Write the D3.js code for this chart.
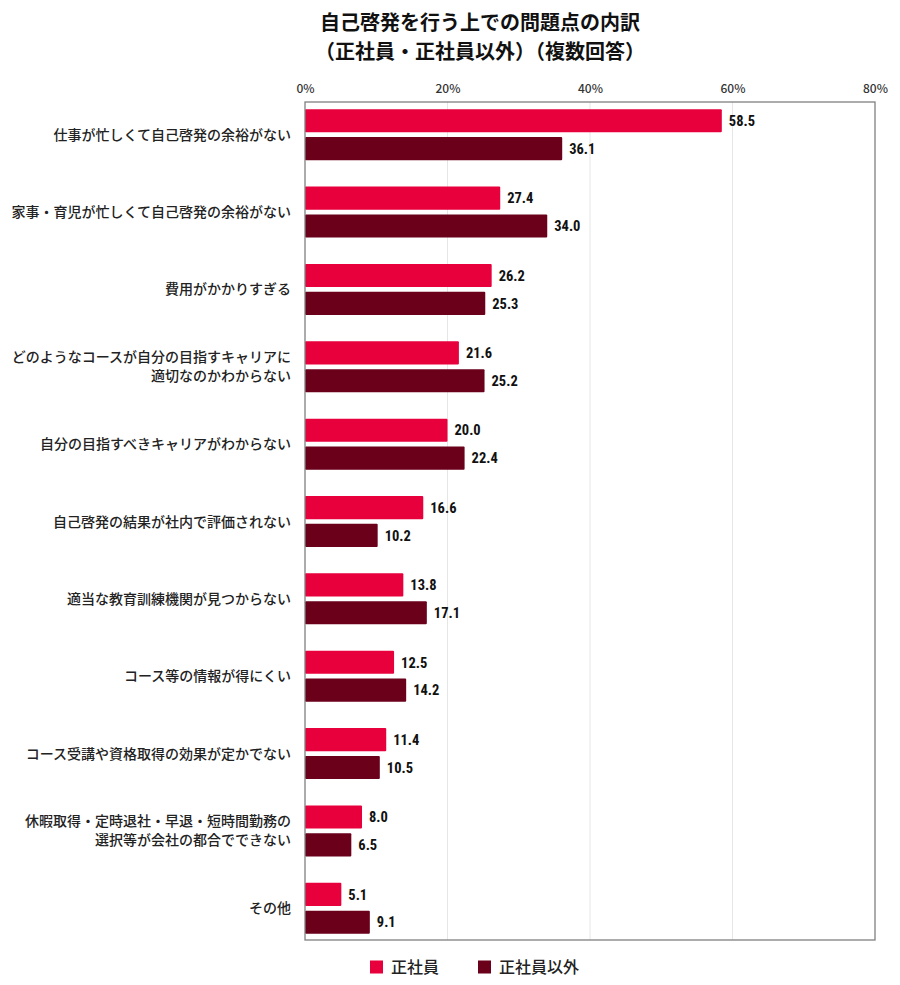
<!DOCTYPE html>
<html><head><meta charset="utf-8">
<script src="https://cdn.jsdelivr.net/npm/d3@7/dist/d3.min.js"></script>
<style>
body{margin:0;background:#fff;}
svg{font-family:"Noto Sans CJK JP","Noto Sans",sans-serif;}
</style></head>
<body><svg id="c" width="900" height="985"></svg>
<script>
const categories = [
  ["仕事が忙しくて自己啓発の余裕がない"],
  ["家事・育児が忙しくて自己啓発の余裕がない"],
  ["費用がかかりすぎる"],
  ["どのようなコースが自分の目指すキャリアに","適切なのかわからない"],
  ["自分の目指すべきキャリアがわからない"],
  ["自己啓発の結果が社内で評価されない"],
  ["適当な教育訓練機関が見つからない"],
  ["コース等の情報が得にくい"],
  ["コース受講や資格取得の効果が定かでない"],
  ["休暇取得・定時退社・早退・短時間勤務の","選択等が会社の都合でできない"],
  ["その他"]
];
const seriesNames = ["正社員","正社員以外"];
const regular = [58.5,27.4,26.2,21.6,20.0,16.6,13.8,12.5,11.4,8.0,5.1];
const nonRegular = [36.1,34.0,25.3,25.2,22.4,10.2,17.1,14.2,10.5,6.5,9.1];
const xTicks = [0,20,40,60,80];
const colors = ["#e8003d","#6b001b"];

const svg = d3.select("#c");
const pLeft = 305, pRight = 875, pTop = 102, pBottom = 940;
const x = d3.scaleLinear().domain([0,80]).range([pLeft,pRight]);
const y = d3.scaleBand().domain(d3.range(categories.length)).range([96, 947]).paddingInner(0).paddingOuter(0);
const sub = d3.scaleBand().domain([0,1]).range([0, 51]).paddingInner(0.17);

// title
const title = svg.append("text").attr("x",480).attr("text-anchor","middle")
  .attr("font-size",20).attr("font-weight",700).attr("fill","#111");
title.append("tspan").attr("x",480).attr("y",30).text("自己啓発を行う上での問題点の内訳");
title.append("tspan").attr("x",480).attr("y",59).text("（正社員・正社員以外）（複数回答）");

// grid
svg.append("g").selectAll("line").data(xTicks.slice(1,-1)).join("line")
  .attr("x1",d=>x(d)).attr("x2",d=>x(d)).attr("y1",pTop).attr("y2",pBottom)
  .attr("stroke","#e6e6e6").attr("stroke-width",1);

// axis labels
const ax = svg.append("g").attr("transform",`translate(0,${pTop})`)
  .call(d3.axisTop(x).tickValues(xTicks).tickFormat(d=>d+"%").tickSize(0).tickPadding(9));
ax.select(".domain").remove();
ax.selectAll("text").attr("font-size",12).attr("font-weight",500).attr("fill","#333")
  .attr("font-family","'Noto Sans CJK JP',sans-serif");

// bars
const data = categories.map((c,i)=>({c,i,vals:[regular[i],nonRegular[i]]}));
const groupOffset = (y.bandwidth()-51)/2;
const g = svg.append("g").selectAll("g").data(data).join("g")
  .attr("transform",d=>`translate(0,${y(d.i)+groupOffset})`);
g.selectAll("rect").data(d=>d.vals.map((v,k)=>({v,k}))).join("rect")
  .attr("x",x(0)).attr("y",d=>sub(d.k)).attr("height",sub.bandwidth())
  .attr("width",d=>x(d.v)-x(0)).attr("fill",d=>colors[d.k]).attr("rx",1);
g.selectAll("text.v").data(d=>d.vals.map((v,k)=>({v,k}))).join("text").attr("class","v")
  .attr("x",d=>x(d.v)+7).attr("y",d=>sub(d.k)+sub.bandwidth()/2).attr("dy","0.36em")
  .attr("font-size",14.5).attr("font-weight",700).attr("fill","#111")
  .attr("font-family","'Liberation Sans Narrow','Roboto Condensed','Noto Sans CJK JP',sans-serif")
  .text(d=>d.v.toFixed(1));

// category labels
g.each(function(d){
  const t = d3.select(this).append("text").attr("text-anchor","end")
    .attr("font-size",14).attr("font-weight",500).attr("fill","#222");
  const n = d.c.length, lh = 19, cy = 51/2;
  d.c.forEach((line,j)=>{
    t.append("tspan").attr("x",291).attr("y",cy + (j-(n-1)/2)*lh).attr("dy","0.36em").text(line);
  });
});

// frame
svg.append("rect").attr("x",pLeft).attr("y",pTop).attr("width",pRight-pLeft).attr("height",pBottom-pTop)
  .attr("fill","none").attr("stroke","#808080").attr("stroke-width",1.3);

// legend
const lg = svg.append("g").attr("transform","translate(0,967)");
const lx = [370,478];
seriesNames.forEach((s,k)=>{
  lg.append("rect").attr("x",lx[k]).attr("y",-6.5).attr("width",13).attr("height",13).attr("fill",colors[k]);
  lg.append("text").attr("x",lx[k]+21).attr("y",0).attr("dy","0.36em")
    .attr("font-size",16).attr("font-weight",500).attr("fill","#222").text(s);
});
</script></body></html>
